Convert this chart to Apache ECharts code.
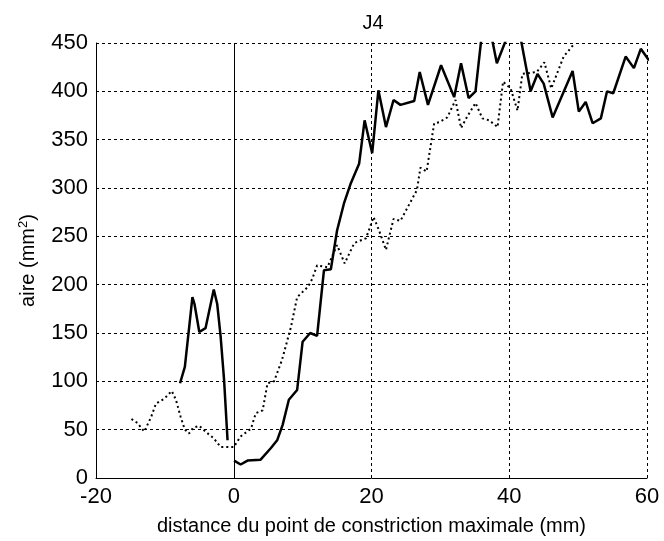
<!DOCTYPE html>
<html>
<head>
<meta charset="utf-8">
<script src="https://cdn.jsdelivr.net/npm/echarts@6/dist/echarts.min.js"></script>
<style>
  html, body { margin: 0; padding: 0; background: #fff; }
  #main { width: 664px; height: 541px; }
</style>
</head>
<body>
<div id="main"></div>
<script>
// courbe continue, partie gauche (avant 0)
var solidLeftX = [-7.8, -7.1, -6.0, -5.7, -5.0, -4.1, -2.9, -2.4, -1.9, -1.4, -0.9];
var solidLeftY = [98, 115, 187, 180, 151, 155, 195, 180, 146, 101, 39];

// courbe continue, partie droite
var solidRightX = [0.05, 1.0, 2.0, 3.9, 5.4, 6.3, 7.1, 8.0, 9.2, 10.0, 11.1, 12.1, 13.1, 14.1, 15.0,
  16.0, 17.0, 18.2, 19.0, 20.1, 21.0, 22.1, 23.2, 24.2, 26.2, 27.0, 28.2, 30.1, 32.0, 33.0, 34.1,
  35.1, 36.5, 38.2, 41.0, 43.1, 44.1, 45.0, 46.3, 49.2, 50.1, 51.1, 52.1, 53.3, 54.2, 55.1, 56.9,
  58.1, 59.1, 60.3];
var solidRightY = [18, 14, 18, 19, 31, 39, 55, 81, 91, 141, 150, 147, 215, 216, 256,
  284, 305, 325, 370, 336, 401, 363, 391, 386, 390, 420, 386, 427, 394, 429, 393,
  400, 490, 429, 480, 400, 418, 408, 373, 421, 379, 389, 367, 372, 400, 398, 436,
  424, 444, 432];

// courbe pointillée
var dottedX = [-14.85, -14.0, -13.0, -12.0, -11.3, -10.1, -9.0, -8.4, -7.7, -7.1, -6.5, -5.9, -5.0,
  -4.1, -2.9, -1.9, -1.2, -0.9, 0.0, 1.0, 2.5, 3.2, 4.2, 4.9, 5.85, 7.0, 8.3, 9.2, 10.8, 11.4,
  12.1, 13.6, 15.0, 16.1, 17.5, 19.2, 20.3, 21.1, 22.1, 23.2, 24.2, 26.6, 27.1, 28.0, 29.1,
  29.8, 31.0, 32.2, 33.0, 33.9, 35.1, 36.1, 37.1, 38.3, 39.1, 40.2, 41.2, 41.9, 44.0, 45.1,
  46.1, 47.9, 49.3];
var dottedY = [61, 57, 48, 63, 77, 82, 90, 81, 63, 50, 46, 52, 54,
  48, 41, 32, 32, 32, 32, 43, 51, 67, 70, 98, 100, 122, 156, 187, 198, 206,
  220, 218, 241, 222, 243, 248, 270, 256, 236, 268, 266, 298, 321, 317, 367,
  368, 373, 391, 362, 374, 388, 372, 370, 363, 410, 403, 380, 418, 420, 430,
  403, 436, 448];

var xTicks = { min: -20, max: 60, interval: 20 };
var yTicks = { min: 0, max: 450, interval: 50 };

function pairs(xs, ys) {
  return xs.map(function (x, i) { return [x, ys[i]]; });
}

var fontFam = 'Liberation Sans';
var gridLine = { show: true, lineStyle: { color: '#000', width: 1, type: [3, 3] } };

var myChart = echarts.init(document.getElementById('main'));
var option = {
  backgroundColor: '#fff',
  animation: false,
  title: {
    text: 'J4',
    left: 368,
    top: 8,
    textAlign: 'center',
    textStyle: { color: '#000', fontWeight: 'normal', fontSize: 20, fontFamily: fontFam }
  },
  grid: { left: 96, right: 17, top: 43, bottom: 63, containLabel: false },
  xAxis: {
    type: 'value',
    min: xTicks.min, max: xTicks.max, interval: xTicks.interval,
    name: 'distance du point de constriction maximale (mm)',
    nameLocation: 'middle',
    nameGap: 38,
    nameTextStyle: { color: '#000', fontSize: 20, fontFamily: fontFam },
    axisLine: { show: true, onZero: false, lineStyle: { color: '#000', width: 1 } },
    axisTick: { show: false },
    axisLabel: { color: '#000', fontSize: 22, fontFamily: fontFam, margin: 8 },
    splitLine: gridLine
  },
  yAxis: {
    type: 'value',
    min: yTicks.min, max: yTicks.max, interval: yTicks.interval,
    name: 'aire (mm{sup|2})',
    nameLocation: 'middle',
    nameGap: 56,
    nameTextStyle: {
      color: '#000', fontSize: 20, fontFamily: fontFam,
      rich: { sup: { fontSize: 13, verticalAlign: 'top', padding: [0, 0, 10, 0], color: '#000', fontFamily: fontFam } }
    },
    axisLine: { show: true, onZero: false, lineStyle: { color: '#000', width: 1 } },
    axisTick: { show: false },
    axisLabel: { color: '#000', fontSize: 22, fontFamily: fontFam, margin: 8 },
    splitLine: gridLine
  },
  series: [
    {
      type: 'line',
      data: pairs(solidLeftX, solidLeftY),
      symbol: 'none',
      clip: true,
      lineStyle: { color: '#000', width: 2.5, type: 'solid' }
    },
    {
      type: 'line',
      data: pairs(solidRightX, solidRightY),
      symbol: 'none',
      clip: true,
      lineStyle: { color: '#000', width: 2.5, type: 'solid' },
      markLine: {
        silent: true,
        symbol: 'none',
        label: { show: false },
        lineStyle: { color: '#000', width: 1, type: 'solid' },
        data: [{ xAxis: 0 }]
      }
    },
    {
      type: 'line',
      data: pairs(dottedX, dottedY),
      symbol: 'none',
      clip: true,
      lineStyle: { color: '#000', width: 2, type: [2, 3] }
    }
  ]
};
myChart.setOption(option);
</script>
</body>
</html>
